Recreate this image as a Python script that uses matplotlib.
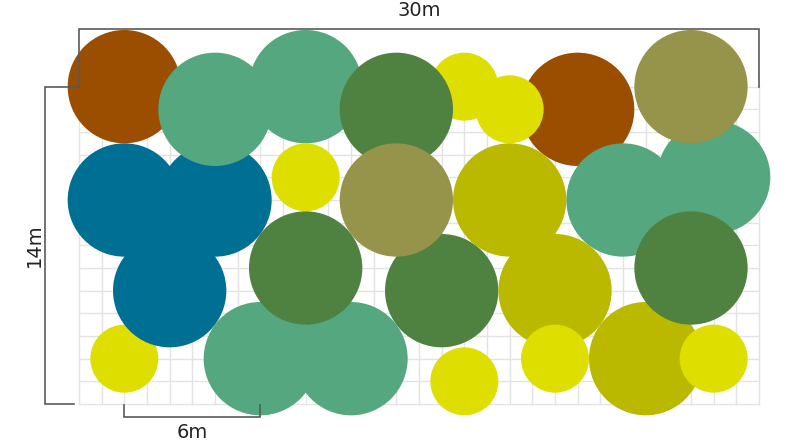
import matplotlib
matplotlib.use("Agg")
import matplotlib.pyplot as plt
from matplotlib.patches import Circle

# ---- data (metres) ----
plot_width = 30
plot_height = 14
scale_bar_start = 2
scale_bar_length = 6

# plants in drawing order
plant_x = [2, 2, 6, 4, 2, 6, 10, 17, 14, 16, 14, 22, 19, 10, 8, 12, 10, 24, 28, 27, 19, 21, 21, 25, 27, 28, 17]
plant_y = [2, 9, 9, 5, 14, 13, 14, 14, 13, 5, 9, 13, 13, 10, 2, 2, 6, 9, 10, 14, 9, 5, 2, 2, 6, 2, 1]
plant_diameter = [3, 5, 5, 5, 5, 5, 5, 3, 5, 5, 5, 5, 3, 3, 5, 5, 5, 5, 5, 5, 5, 5, 3, 5, 5, 3, 3]
plant_type = ["yellow", "blue", "blue", "blue", "brown", "green", "green", "yellow",
              "darkgreen", "darkgreen", "olive", "brown", "yellow", "yellow", "green",
              "green", "darkgreen", "green", "green", "olive", "lime", "lime", "yellow",
              "lime", "darkgreen", "yellow", "yellow"]

palette = {
    "yellow": "#dede00",
    "blue": "#006f94",
    "brown": "#9b4e00",
    "green": "#54a77e",
    "darkgreen": "#4f8240",
    "olive": "#96944a",
    "lime": "#bab900",
}

plt.rcParams['font.family'] = ['Liberation Sans Narrow', 'DejaVu Sans']

W, H = 809, 446
ppm = 680 / 30.0          # pixels per metre
x0_px, y0_px = 79, 404    # pixel location of (0,0)

fig = plt.figure(figsize=(W / 100, H / 100), dpi=100)
ax = fig.add_axes([0, 0, 1, 1])
ax.set_xlim(-x0_px / ppm, (W - x0_px) / ppm)
ax.set_ylim(-(H - y0_px) / ppm, y0_px / ppm)
ax.axis('off')

# grid
grid_c = "#e3e3e3"
for gx in range(plot_width + 1):
    ax.plot([gx, gx], [0, plot_height], color=grid_c, lw=1.0, zorder=1)
for gy in range(plot_height + 1):
    ax.plot([0, plot_width], [gy, gy], color=grid_c, lw=1.0, zorder=1)

# plants
for i, (cx, cy, d, t) in enumerate(zip(plant_x, plant_y, plant_diameter, plant_type)):
    ax.add_patch(Circle((cx, cy), d / 2, facecolor=palette[t], edgecolor='none',
                        lw=0, zorder=2 + i * 0.01))

# dimension lines
dc = "#5a5a5a"
lw = 1.2
top_y = 16.55
ax.plot([0, 0, plot_width, plot_width], [plot_height, top_y, top_y, plot_height],
        color=dc, lw=lw, zorder=5, solid_joinstyle='miter')
ax.text(plot_width / 2, 17.35, f"{plot_width}m", ha='center', va='center',
        fontsize=14, color="#222222", zorder=6)

left_x = -1.5
ax.plot([0, left_x, left_x, -0.22], [plot_height, plot_height, 0, 0],
        color=dc, lw=lw, zorder=5, solid_joinstyle='miter')
ax.text(-1.95, plot_height / 2, f"{plot_height}m", ha='center', va='center',
        rotation=90, fontsize=14, color="#222222", zorder=6)

by = -0.57
ax.plot([scale_bar_start, scale_bar_start, scale_bar_start + scale_bar_length,
         scale_bar_start + scale_bar_length], [-0.05, by, by, -0.05],
        color=dc, lw=lw, zorder=5, solid_joinstyle='miter')
ax.text(scale_bar_start + scale_bar_length / 2, -1.25, f"{scale_bar_length}m",
        ha='center', va='center', fontsize=14, color="#222222", zorder=6)

fig.savefig("out.png", dpi=100)
